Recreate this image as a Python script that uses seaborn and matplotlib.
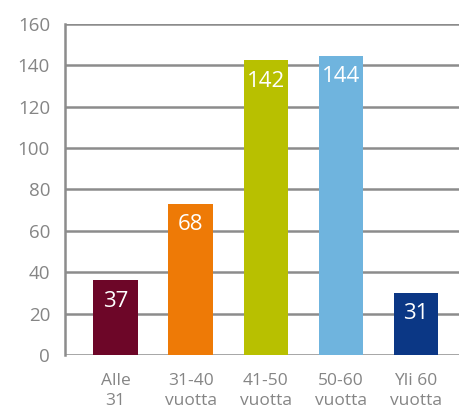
import matplotlib
matplotlib.use('Agg')
import matplotlib.pyplot as plt
import seaborn as sns
import pandas as pd

# age groups and counts as drawn
categories = ['Alle\n31', '31-40\nvuotta', '41-50\nvuotta', '50-60\nvuotta', 'Yli 60\nvuotta']
heights = [36, 73, 142.5, 144.5, 30]
labels = ['37', '68', '142', '144', '31']
colors = ['#6d0628', '#ee7a06', '#b8c000', '#6fb4de', '#0b3785']

sns.set_style('white')
plt.rcParams['font.family'] = ['Open Sans', 'DejaVu Sans']

df = pd.DataFrame({'group': categories, 'count': heights})

fig = plt.figure(figsize=(4.6, 4.07), dpi=100)
ax = fig.add_axes([0.142, 0.128, 0.858, 0.813])

sns.barplot(data=df, x='group', y='count', hue='group', palette=colors,
            width=0.59, saturation=1, legend=False, ax=ax, zorder=3,
            edgecolor='none', linewidth=0)

ax.set_ylim(0, 160)
ax.set_xlim(-0.67, 4.59)
ax.set_yticks(range(0, 161, 20))
ax.yaxis.grid(True, color='#8c8c8c', linewidth=1.8, zorder=0)
ax.set_axisbelow(True)

for s in ['top', 'right', 'bottom']:
    ax.spines[s].set_visible(False)
ax.spines['left'].set_color('#8c8c8c')
ax.spines['left'].set_linewidth(1.8)

ax.tick_params(axis='y', length=0, pad=11, labelsize=13.5, labelcolor='#858585')
ax.tick_params(axis='x', length=0, pad=13, labelsize=12.5, labelcolor='#858585')
for t in ax.get_xticklabels():
    t.set_linespacing(1.35)
ax.set_xlabel('')
ax.set_ylabel('')

for i, (h, lab) in enumerate(zip(heights, labels)):
    ax.annotate(lab, (i, h), xytext=(0, -15), textcoords='offset points',
                ha='center', va='center', color='white', fontsize=16, zorder=4)

fig.savefig('out.png', dpi=100)
